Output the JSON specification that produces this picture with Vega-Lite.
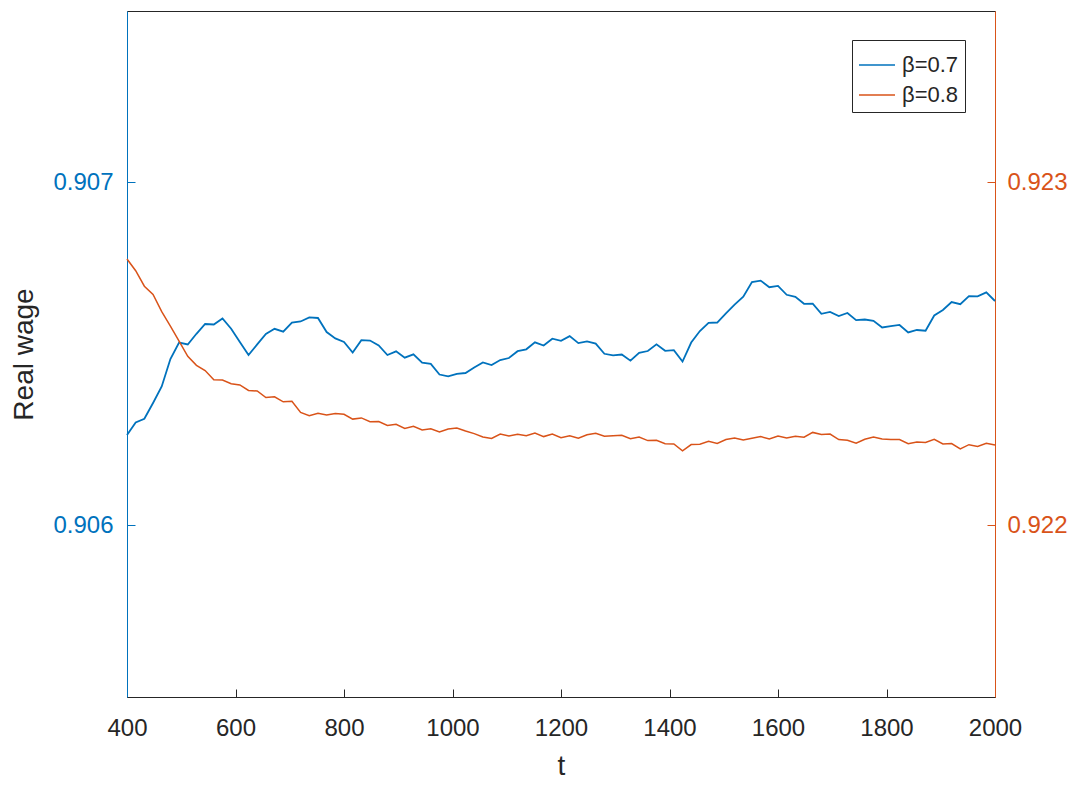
{
  "$schema": "https://vega.github.io/schema/vega-lite/v6.json",
  "width": 868,
  "height": 686,
  "autosize": {"type": "none"},
  "padding": {"left": 127, "top": 11, "right": 83, "bottom": 90},
  "background": "white",
  "config": {
    "view": {"stroke": "#262626", "strokeWidth": 1},
    "font": "Liberation Sans",
    "axis": {"grid": false, "labelFont": "Liberation Sans", "titleFont": "Liberation Sans", "labelFontSize": 24, "titleFontSize": 28, "titleFontWeight": "normal", "tickSize": -8, "domainWidth": 1, "tickWidth": 1}
  },
  "data": {"values": [
    {"t":400,"wage":0.9062638,"series":"β=0.7"},{"t":416,"wage":0.9063006,"series":"β=0.7"},{"t":432,"wage":0.9063111,"series":"β=0.7"},{"t":448,"wage":0.9063571,"series":"β=0.7"},{"t":464,"wage":0.9064053,"series":"β=0.7"},{"t":480,"wage":0.9064854,"series":"β=0.7"},{"t":496,"wage":0.9065332,"series":"β=0.7"},{"t":512,"wage":0.9065277,"series":"β=0.7"},{"t":528,"wage":0.9065589,"series":"β=0.7"},{"t":544,"wage":0.9065875,"series":"β=0.7"},
    {"t":560,"wage":0.906586,"series":"β=0.7"},{"t":576,"wage":0.9066035,"series":"β=0.7"},{"t":592,"wage":0.9065738,"series":"β=0.7"},{"t":608,"wage":0.906535,"series":"β=0.7"},{"t":624,"wage":0.9064971,"series":"β=0.7"},{"t":640,"wage":0.906528,"series":"β=0.7"},{"t":656,"wage":0.9065583,"series":"β=0.7"},{"t":672,"wage":0.9065735,"series":"β=0.7"},{"t":688,"wage":0.906565,"series":"β=0.7"},{"t":704,"wage":0.9065916,"series":"β=0.7"},
    {"t":720,"wage":0.9065948,"series":"β=0.7"},{"t":736,"wage":0.9066067,"series":"β=0.7"},{"t":752,"wage":0.906605,"series":"β=0.7"},{"t":768,"wage":0.9065641,"series":"β=0.7"},{"t":784,"wage":0.9065455,"series":"β=0.7"},{"t":800,"wage":0.906535,"series":"β=0.7"},{"t":816,"wage":0.9065041,"series":"β=0.7"},{"t":832,"wage":0.9065402,"series":"β=0.7"},{"t":848,"wage":0.9065391,"series":"β=0.7"},{"t":864,"wage":0.9065248,"series":"β=0.7"},
    {"t":880,"wage":0.9064971,"series":"β=0.7"},{"t":896,"wage":0.9065076,"series":"β=0.7"},{"t":912,"wage":0.9064892,"series":"β=0.7"},{"t":928,"wage":0.9064991,"series":"β=0.7"},{"t":944,"wage":0.9064749,"series":"β=0.7"},{"t":960,"wage":0.9064711,"series":"β=0.7"},{"t":976,"wage":0.9064402,"series":"β=0.7"},{"t":992,"wage":0.9064347,"series":"β=0.7"},{"t":1008,"wage":0.9064423,"series":"β=0.7"},{"t":1024,"wage":0.9064446,"series":"β=0.7"},
    {"t":1040,"wage":0.9064606,"series":"β=0.7"},{"t":1056,"wage":0.9064752,"series":"β=0.7"},{"t":1072,"wage":0.9064679,"series":"β=0.7"},{"t":1088,"wage":0.9064825,"series":"β=0.7"},{"t":1104,"wage":0.9064883,"series":"β=0.7"},{"t":1120,"wage":0.9065082,"series":"β=0.7"},{"t":1136,"wage":0.9065137,"series":"β=0.7"},{"t":1152,"wage":0.9065341,"series":"β=0.7"},{"t":1168,"wage":0.9065248,"series":"β=0.7"},{"t":1184,"wage":0.9065446,"series":"β=0.7"},
    {"t":1200,"wage":0.9065382,"series":"β=0.7"},{"t":1216,"wage":0.9065522,"series":"β=0.7"},{"t":1232,"wage":0.9065318,"series":"β=0.7"},{"t":1248,"wage":0.906537,"series":"β=0.7"},{"t":1264,"wage":0.9065303,"series":"β=0.7"},{"t":1280,"wage":0.9065006,"series":"β=0.7"},{"t":1296,"wage":0.9064959,"series":"β=0.7"},{"t":1312,"wage":0.9064985,"series":"β=0.7"},{"t":1328,"wage":0.9064805,"series":"β=0.7"},{"t":1344,"wage":0.9065035,"series":"β=0.7"},
    {"t":1360,"wage":0.9065087,"series":"β=0.7"},{"t":1376,"wage":0.9065283,"series":"β=0.7"},{"t":1392,"wage":0.9065093,"series":"β=0.7"},{"t":1408,"wage":0.9065111,"series":"β=0.7"},{"t":1424,"wage":0.9064778,"series":"β=0.7"},{"t":1440,"wage":0.9065335,"series":"β=0.7"},{"t":1456,"wage":0.9065671,"series":"β=0.7"},{"t":1472,"wage":0.906591,"series":"β=0.7"},{"t":1488,"wage":0.9065918,"series":"β=0.7"},{"t":1504,"wage":0.9066187,"series":"β=0.7"},
    {"t":1520,"wage":0.906644,"series":"β=0.7"},{"t":1536,"wage":0.9066668,"series":"β=0.7"},{"t":1552,"wage":0.9067099,"series":"β=0.7"},{"t":1568,"wage":0.906714,"series":"β=0.7"},{"t":1584,"wage":0.9066948,"series":"β=0.7"},{"t":1600,"wage":0.9066983,"series":"β=0.7"},{"t":1616,"wage":0.9066726,"series":"β=0.7"},{"t":1632,"wage":0.9066668,"series":"β=0.7"},{"t":1648,"wage":0.9066464,"series":"β=0.7"},{"t":1664,"wage":0.9066469,"series":"β=0.7"},
    {"t":1680,"wage":0.9066172,"series":"β=0.7"},{"t":1696,"wage":0.9066225,"series":"β=0.7"},{"t":1712,"wage":0.9066108,"series":"β=0.7"},{"t":1728,"wage":0.9066195,"series":"β=0.7"},{"t":1744,"wage":0.9065986,"series":"β=0.7"},{"t":1760,"wage":0.9066006,"series":"β=0.7"},{"t":1776,"wage":0.9065968,"series":"β=0.7"},{"t":1792,"wage":0.9065773,"series":"β=0.7"},{"t":1808,"wage":0.9065811,"series":"β=0.7"},{"t":1824,"wage":0.9065846,"series":"β=0.7"},
    {"t":1840,"wage":0.906563,"series":"β=0.7"},{"t":1856,"wage":0.90657,"series":"β=0.7"},{"t":1872,"wage":0.9065679,"series":"β=0.7"},{"t":1888,"wage":0.9066123,"series":"β=0.7"},{"t":1904,"wage":0.9066283,"series":"β=0.7"},{"t":1920,"wage":0.9066513,"series":"β=0.7"},{"t":1936,"wage":0.9066452,"series":"β=0.7"},{"t":1952,"wage":0.9066688,"series":"β=0.7"},{"t":1968,"wage":0.9066682,"series":"β=0.7"},{"t":1984,"wage":0.9066796,"series":"β=0.7"},
    {"t":2000,"wage":0.9066545,"series":"β=0.7"},
    {"t":400,"wage":0.922777,"series":"β=0.8"},{"t":416,"wage":0.9227429,"series":"β=0.8"},{"t":432,"wage":0.9226977,"series":"β=0.8"},{"t":448,"wage":0.9226735,"series":"β=0.8"},{"t":464,"wage":0.9226233,"series":"β=0.8"},{"t":480,"wage":0.9225816,"series":"β=0.8"},{"t":496,"wage":0.9225376,"series":"β=0.8"},{"t":512,"wage":0.9224933,"series":"β=0.8"},{"t":528,"wage":0.9224671,"series":"β=0.8"},{"t":544,"wage":0.9224519,"series":"β=0.8"},
    {"t":560,"wage":0.9224251,"series":"β=0.8"},{"t":576,"wage":0.9224242,"series":"β=0.8"},{"t":592,"wage":0.9224134,"series":"β=0.8"},{"t":608,"wage":0.9224099,"series":"β=0.8"},{"t":624,"wage":0.9223939,"series":"β=0.8"},{"t":640,"wage":0.9223921,"series":"β=0.8"},{"t":656,"wage":0.9223729,"series":"β=0.8"},{"t":672,"wage":0.9223752,"series":"β=0.8"},{"t":688,"wage":0.9223607,"series":"β=0.8"},{"t":704,"wage":0.922362,"series":"β=0.8"},
    {"t":720,"wage":0.9223295,"series":"β=0.8"},{"t":736,"wage":0.9223201,"series":"β=0.8"},{"t":752,"wage":0.9223271,"series":"β=0.8"},{"t":768,"wage":0.9223222,"series":"β=0.8"},{"t":784,"wage":0.9223265,"series":"β=0.8"},{"t":800,"wage":0.9223242,"series":"β=0.8"},{"t":816,"wage":0.9223102,"series":"β=0.8"},{"t":832,"wage":0.9223137,"series":"β=0.8"},{"t":848,"wage":0.9223026,"series":"β=0.8"},{"t":864,"wage":0.9223032,"series":"β=0.8"},
    {"t":880,"wage":0.9222918,"series":"β=0.8"},{"t":896,"wage":0.9222953,"series":"β=0.8"},{"t":912,"wage":0.9222831,"series":"β=0.8"},{"t":928,"wage":0.9222895,"series":"β=0.8"},{"t":944,"wage":0.9222784,"series":"β=0.8"},{"t":960,"wage":0.9222819,"series":"β=0.8"},{"t":976,"wage":0.9222726,"series":"β=0.8"},{"t":992,"wage":0.9222813,"series":"β=0.8"},{"t":1008,"wage":0.9222843,"series":"β=0.8"},{"t":1024,"wage":0.9222755,"series":"β=0.8"},
    {"t":1040,"wage":0.9222679,"series":"β=0.8"},{"t":1056,"wage":0.922258,"series":"β=0.8"},{"t":1072,"wage":0.9222536,"series":"β=0.8"},{"t":1088,"wage":0.9222668,"series":"β=0.8"},{"t":1104,"wage":0.9222609,"series":"β=0.8"},{"t":1120,"wage":0.9222662,"series":"β=0.8"},{"t":1136,"wage":0.9222615,"series":"β=0.8"},{"t":1152,"wage":0.9222694,"series":"β=0.8"},{"t":1168,"wage":0.9222592,"series":"β=0.8"},{"t":1184,"wage":0.9222665,"series":"β=0.8"},
    {"t":1200,"wage":0.922256,"series":"β=0.8"},{"t":1216,"wage":0.9222615,"series":"β=0.8"},{"t":1232,"wage":0.9222542,"series":"β=0.8"},{"t":1248,"wage":0.9222644,"series":"β=0.8"},{"t":1264,"wage":0.9222688,"series":"β=0.8"},{"t":1280,"wage":0.9222601,"series":"β=0.8"},{"t":1296,"wage":0.9222615,"series":"β=0.8"},{"t":1312,"wage":0.922263,"series":"β=0.8"},{"t":1328,"wage":0.9222528,"series":"β=0.8"},{"t":1344,"wage":0.9222577,"series":"β=0.8"},
    {"t":1360,"wage":0.9222475,"series":"β=0.8"},{"t":1376,"wage":0.9222487,"series":"β=0.8"},{"t":1392,"wage":0.9222385,"series":"β=0.8"},{"t":1408,"wage":0.9222376,"series":"β=0.8"},{"t":1424,"wage":0.9222178,"series":"β=0.8"},{"t":1440,"wage":0.9222359,"series":"β=0.8"},{"t":1456,"wage":0.922237,"series":"β=0.8"},{"t":1472,"wage":0.9222458,"series":"β=0.8"},{"t":1488,"wage":0.9222394,"series":"β=0.8"},{"t":1504,"wage":0.9222505,"series":"β=0.8"},
    {"t":1520,"wage":0.9222554,"series":"β=0.8"},{"t":1536,"wage":0.922249,"series":"β=0.8"},{"t":1552,"wage":0.9222542,"series":"β=0.8"},{"t":1568,"wage":0.9222592,"series":"β=0.8"},{"t":1584,"wage":0.9222522,"series":"β=0.8"},{"t":1600,"wage":0.9222609,"series":"β=0.8"},{"t":1616,"wage":0.9222551,"series":"β=0.8"},{"t":1632,"wage":0.92226,"series":"β=0.8"},{"t":1648,"wage":0.9222574,"series":"β=0.8"},{"t":1664,"wage":0.9222714,"series":"β=0.8"},
    {"t":1680,"wage":0.9222653,"series":"β=0.8"},{"t":1696,"wage":0.9222665,"series":"β=0.8"},{"t":1712,"wage":0.9222505,"series":"β=0.8"},{"t":1728,"wage":0.9222487,"series":"β=0.8"},{"t":1744,"wage":0.9222397,"series":"β=0.8"},{"t":1760,"wage":0.9222516,"series":"β=0.8"},{"t":1776,"wage":0.9222577,"series":"β=0.8"},{"t":1792,"wage":0.9222519,"series":"β=0.8"},{"t":1808,"wage":0.922251,"series":"β=0.8"},{"t":1824,"wage":0.9222507,"series":"β=0.8"},
    {"t":1840,"wage":0.9222385,"series":"β=0.8"},{"t":1856,"wage":0.9222434,"series":"β=0.8"},{"t":1872,"wage":0.9222423,"series":"β=0.8"},{"t":1888,"wage":0.9222513,"series":"β=0.8"},{"t":1904,"wage":0.9222376,"series":"β=0.8"},{"t":1920,"wage":0.9222388,"series":"β=0.8"},{"t":1936,"wage":0.922223,"series":"β=0.8"},{"t":1952,"wage":0.9222356,"series":"β=0.8"},{"t":1968,"wage":0.9222303,"series":"β=0.8"},{"t":1984,"wage":0.92224,"series":"β=0.8"},
    {"t":2000,"wage":0.9222347,"series":"β=0.8"}
  ]},
  "encoding": {
    "x": {"field": "t", "type": "quantitative", "scale": {"domain": [400, 2000], "nice": false, "zero": false},
      "axis": {"values": [400, 600, 800, 1000, 1200, 1400, 1600, 1800, 2000], "format": "d", "title": "t", "labelColor": "#262626", "titleColor": "#262626", "domainColor": "#262626", "tickColor": "#262626", "labelPadding": 27, "titlePadding": 12, "labelFlush": false}},
    "color": {"field": "series", "type": "nominal", "scale": {"domain": ["β=0.7", "β=0.8"], "range": ["#0072BD", "#D95319"]},
      "legend": {"title": null, "orient": "none", "legendX": 725, "legendY": 29, "symbolType": "stroke", "symbolSize": 1300, "symbolStrokeWidth": 1.5, "labelFontSize": 22, "labelFont": "Liberation Sans", "labelColor": "#262626", "strokeColor": "#262626", "fillColor": "white", "padding": 6, "rowPadding": 0, "labelOffset": 6}}
  },
  "layer": [
    {
      "transform": [{"filter": "datum.series === 'β=0.7'"}],
      "mark": {"type": "line", "strokeWidth": 1.8},
      "encoding": {
        "y": {"field": "wage", "type": "quantitative", "scale": {"domain": [0.9055, 0.9075], "nice": false, "zero": false},
          "axis": {"orient": "left", "values": [0.906, 0.907], "format": ".3f", "title": "Real wage", "titleColor": "#262626", "labelColor": "#0072BD", "domainColor": "#0072BD", "tickColor": "#0072BD", "labelPadding": 22, "titlePadding": 14}}
      }
    },
    {
      "transform": [{"filter": "datum.series === 'β=0.8'"}],
      "mark": {"type": "line", "strokeWidth": 1.5},
      "encoding": {
        "y": {"field": "wage", "type": "quantitative", "scale": {"domain": [0.9215, 0.9235], "nice": false, "zero": false},
          "axis": {"orient": "right", "values": [0.922, 0.923], "format": ".3f", "title": null, "labelColor": "#D95319", "domainColor": "#D95319", "tickColor": "#D95319", "labelPadding": 20}}
      }
    }
  ],
  "resolve": {"scale": {"y": "independent"}, "axis": {"y": "independent"}}
}
